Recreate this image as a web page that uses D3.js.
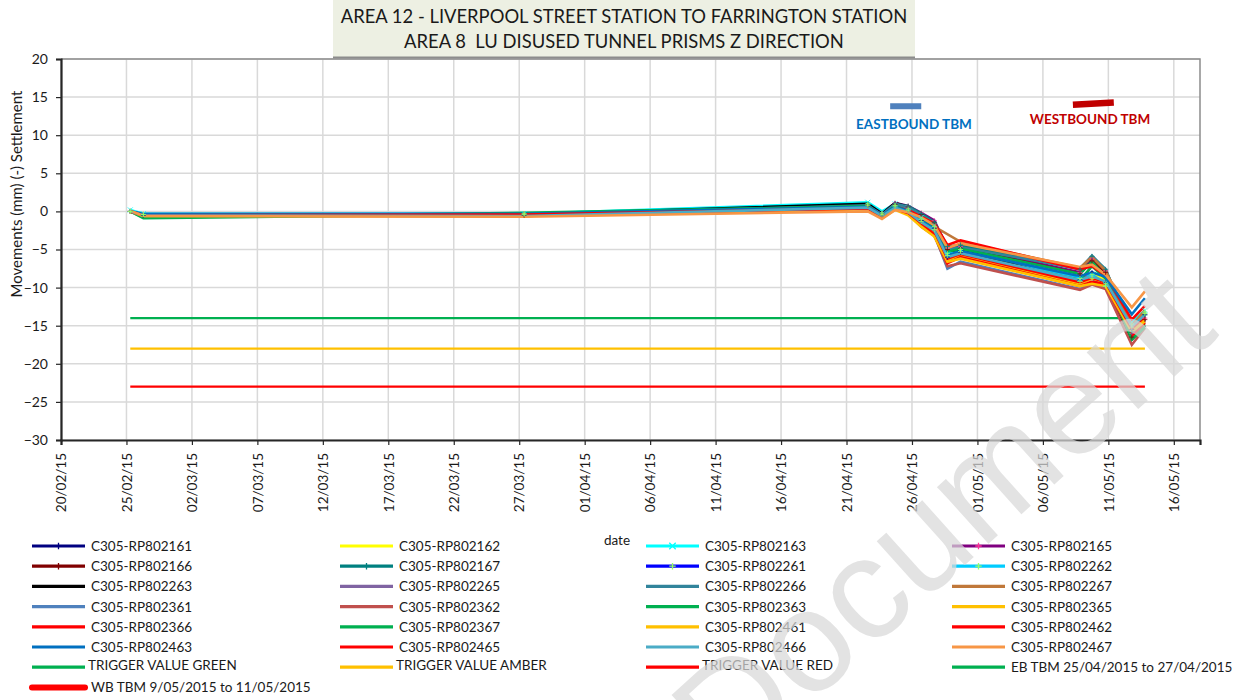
<!DOCTYPE html>
<html>
<head>
<meta charset="utf-8">
<script src="https://cdn.jsdelivr.net/npm/d3@7"></script>
<style>
  html, body { margin: 0; padding: 0; background: #ffffff; }
  svg { display: block; font-family: Lato, "Open Sans", sans-serif; }
</style>
</head>
<body>
<svg id="chart" width="1246" height="700"></svg>
<script>
// ---- data -------------------------------------------------------------
const readingDates = [
  "2015-02-25 07:00", "2015-02-26 07:00", "2015-03-27 09:00", "2015-04-22 15:00",
  "2015-04-23 17:00", "2015-04-24 17:00", "2015-04-25 17:00", "2015-04-26 17:00",
  "2015-04-27 17:00", "2015-04-28 17:00", "2015-04-29 17:00", "2015-05-08 20:00",
  "2015-05-09 18:00", "2015-05-10 19:00", "2015-05-12 19:00", "2015-05-13 19:00"
];

const seriesNames = [
  "C305-RP802161", "C305-RP802162", "C305-RP802163", "C305-RP802165",
  "C305-RP802166", "C305-RP802167", "C305-RP802261", "C305-RP802262",
  "C305-RP802263", "C305-RP802265", "C305-RP802266", "C305-RP802267",
  "C305-RP802361", "C305-RP802362", "C305-RP802363", "C305-RP802365",
  "C305-RP802366", "C305-RP802367", "C305-RP802461", "C305-RP802462",
  "C305-RP802463", "C305-RP802465", "C305-RP802466", "C305-RP802467"
];

const seriesColors = [
  "#000080", "#ffff00", "#00ffff", "#800080",
  "#800000", "#008080", "#0000ff", "#00ccff",
  "#000000", "#8064a2", "#31849b", "#c0783a",
  "#4f81bd", "#c0504d", "#00b050", "#ffc000",
  "#ff0000", "#00b050", "#ffc000", "#ff0000",
  "#0070c0", "#ff0000", "#4bacc6", "#f79646"
];

// marker per series: null = plain line
const seriesMarkers = [
  "plus", null, "cross", "plus",
  "plus", "plus", "plus", "plus",
  null, null, null, null,
  null, null, null, null,
  null, null, null, null,
  null, null, null, null
];
const markerColors = [
  "#000080", null, "#00ffff", "#ff3399",
  "#800000", "#008080", "#99ff66", "#99ff66",
  null, null, null, null, null, null, null, null,
  null, null, null, null, null, null, null, null
];

// settlement readings (mm), one row per prism, one value per reading date
const seriesValues = [
  [0.0, -0.4, -0.4, 0.9, -0.2, 0.8, 0.2, -1.2, -2.2, -6.0, -5.4, -9.0, -8.0, -9.4, -15.5, -13.5],
  [0.0, -0.5, -0.5, 0.7, -0.5, 0.4, -0.3, -1.6, -2.6, -6.2, -5.6, -8.6, -8.2, -9.0, -15.0, -13.8],
  [0.2, -0.3, -0.3, 1.2, 0.0, 1.0, 0.5, -0.8, -1.8, -5.6, -5.0, -8.9, -8.3, -9.6, -14.5, -13.0],
  [0.0, -0.4, -0.4, 0.9, -0.3, 1.1, 0.7, -0.2, -1.2, -4.8, -4.6, -8.0, -6.2, -7.8, -16.0, -14.0],
  [0.0, -0.5, -0.5, 0.8, -0.4, 0.9, 0.6, -0.4, -1.5, -5.0, -4.8, -8.2, -6.5, -8.0, -16.5, -14.2],
  [0.0, -0.5, -0.4, 0.9, -0.3, 1.0, 0.7, -0.3, -1.4, -4.6, -4.4, -7.6, -5.9, -7.6, -15.8, -13.6],
  [0.0, -0.4, -0.4, 0.8, -0.4, 0.7, 0.1, -1.3, -2.4, -5.8, -5.3, -9.2, -8.8, -9.8, -15.2, -13.4],
  [0.0, -0.4, -0.3, 1.0, -0.2, 0.8, 0.3, -1.0, -2.0, -5.5, -5.0, -8.8, -8.3, -9.5, -14.8, -13.2],
  [0.0, -0.5, -0.4, 1.0, -0.3, 1.1, 0.6, -0.6, -1.6, -5.2, -5.0, -9.4, -8.6, -9.6, -16.8, -15.0],
  [0.0, -0.5, -0.5, 0.7, -0.4, 0.9, 0.4, -0.8, -1.9, -6.4, -5.8, -9.6, -7.0, -8.5, -16.2, -14.4],
  [0.0, -0.6, -0.5, 0.8, -0.5, 1.0, 0.6, -0.5, -1.5, -5.0, -4.7, -7.5, -5.8, -7.7, -15.6, -14.2],
  [0.0, -0.6, -0.6, 0.4, -0.6, 0.5, 0.0, null, null, null, -4.0, -7.4, -6.0, -7.8, -15.0, -13.0],
  [0.0, -0.5, -0.5, 0.6, -0.6, 0.5, -0.2, -1.8, -3.0, -7.5, -6.6, -10.2, -9.4, -10.0, -16.2, -15.0],
  [0.0, -0.6, -0.6, 0.5, -0.7, 0.4, -0.3, -2.0, -3.2, -7.2, -6.8, -10.3, -9.6, -10.2, -17.5, -15.3],
  [0.0, -0.8, -0.2, 0.7, -0.6, 0.6, 0.0, -1.4, -2.6, -6.0, -5.6, -9.0, -7.2, -8.8, -16.6, -14.8],
  [0.0, -0.6, -0.5, 0.5, -0.8, 0.4, -0.2, -1.6, -2.8, -6.3, -5.8, -9.5, -8.8, -9.4, -15.6, -14.0],
  [0.0, -0.5, -0.4, 0.4, -0.6, 0.3, -0.3, -1.8, -3.0, -6.8, -6.0, -9.8, -9.2, -9.6, -16.4, -14.6],
  [0.0, -0.9, -0.3, 0.6, -0.7, 0.7, 0.1, -1.1, -2.2, -5.3, -4.9, -8.2, -6.6, -8.6, -16.8, -15.2],
  [0.0, -0.6, -0.6, 0.3, -0.9, 0.2, -0.5, -2.0, -3.3, -6.6, -6.2, -9.8, -9.5, -9.8, -15.8, -14.4],
  [0.0, -0.5, -0.5, 0.4, -0.6, 0.5, 0.2, -0.7, -1.6, -4.4, -3.8, -7.6, -7.2, -8.4, -14.2, -12.4],
  [0.0, -0.3, -0.3, 0.6, -0.5, 0.6, 0.1, -1.2, -2.3, -5.8, -5.2, -8.5, -8.0, -8.6, -13.5, -11.4],
  [0.0, -0.5, -0.4, 0.4, -0.7, 0.3, -0.2, -1.5, -2.6, -6.2, -5.6, -9.3, -8.7, -9.3, -15.4, -13.8],
  [0.0, -0.5, -0.6, 0.5, -0.6, 0.5, -0.1, -1.4, -2.5, -6.0, -5.5, -9.0, -8.5, -9.2, -15.1, -13.6],
  [0.1, -0.6, -0.7, 0.0, -1.0, 0.2, -0.1, -0.8, -1.8, -4.8, -4.2, -7.3, -7.0, -8.3, -12.6, -10.5]
];

// trigger levels (mm), drawn across the monitoring period
const triggerNames = ["TRIGGER VALUE GREEN", "TRIGGER VALUE AMBER", "TRIGGER VALUE RED"];
const triggerLevels = [-14, -18, -23];
const triggerColors = ["#00b050", "#ffc000", "#ff0000"];
const triggerDates = ["2015-02-25 07:00", "2015-05-13 19:00"];

// TBM passage bars
const ebTbmDates = ["2015-04-24 08:00", "2015-04-26 17:00"];
const ebTbmValues = [13.8, 13.8];
const wbTbmDates = ["2015-05-08 07:00", "2015-05-11 10:00"];
const wbTbmValues = [14.0, 14.3];

const xTickDates = [
  "2015-02-20", "2015-02-25", "2015-03-02", "2015-03-07", "2015-03-12", "2015-03-17",
  "2015-03-22", "2015-03-27", "2015-04-01", "2015-04-06", "2015-04-11", "2015-04-16",
  "2015-04-21", "2015-04-26", "2015-05-01", "2015-05-06", "2015-05-11", "2015-05-16"
];
const xDomain = ["2015-02-20", "2015-05-18"];
const yTicks = [20, 15, 10, 5, 0, -5, -10, -15, -20, -25, -30];

// ---- drawing ----------------------------------------------------------
const parseDT = d3.timeParse("%Y-%m-%d %H:%M");
const parseD = d3.timeParse("%Y-%m-%d");
const fmt = d3.timeFormat("%d/%m/%y");

const svg = d3.select("#chart");
const plot = { left: 61, right: 1200, top: 59, bottom: 440 };

const x = d3.scaleTime()
  .domain(xDomain.map(parseD))
  .range([plot.left, plot.right]);
const y = d3.scaleLinear()
  .domain([-30, 20])
  .range([plot.bottom, plot.top]);

// gridlines
svg.append("g").selectAll("line.h").data(yTicks).join("line")
  .attr("x1", plot.left).attr("x2", plot.right)
  .attr("y1", d => y(d)).attr("y2", d => y(d))
  .attr("stroke", "#d9d9d9").attr("stroke-width", 1.5);
svg.append("g").selectAll("line.v").data(xTickDates).join("line")
  .attr("x1", d => x(parseD(d))).attr("x2", d => x(parseD(d)))
  .attr("y1", plot.top).attr("y2", plot.bottom)
  .attr("stroke", "#d9d9d9").attr("stroke-width", 1.5);

// outer frame (top / right)
svg.append("path")
  .attr("d", `M${plot.left},${plot.top}H${plot.right}V${plot.bottom}`)
  .attr("fill", "none").attr("stroke", "#8c8c8c").attr("stroke-width", 1.5);

// axes
const yAxis = d3.axisLeft(y).tickValues(yTicks).tickSize(5).tickPadding(8);
const gy = svg.append("g").attr("transform", `translate(${plot.left},0)`).call(yAxis);
gy.select(".domain").attr("stroke", "#262626").attr("stroke-width", 2.2);
gy.selectAll(".tick line").attr("stroke", "#262626").attr("stroke-width", 1.2);
gy.selectAll(".tick text").attr("font-size", 14).attr("fill", "#1a1a1a")
  .attr("font-family", "Lato, sans-serif");

const xAxis = d3.axisBottom(x).tickValues(xTickDates.map(parseD)).tickFormat(fmt).tickSize(5);
const gx = svg.append("g").attr("transform", `translate(0,${plot.bottom})`).call(xAxis);
gx.select(".domain").attr("stroke", "#262626").attr("stroke-width", 2.2);
gx.selectAll(".tick line").attr("stroke", "#262626").attr("stroke-width", 1.2);
gx.selectAll(".tick text")
  .attr("font-size", 13.5).attr("fill", "#1a1a1a").attr("font-family", "Lato, sans-serif")
  .attr("transform", "rotate(-90)")
  .attr("text-anchor", "end")
  .attr("x", -13).attr("y", 0).attr("dy", "0.35em");

// axis titles
svg.append("text")
  .attr("transform", "translate(22,194) rotate(-90)")
  .attr("text-anchor", "middle")
  .attr("font-size", 15).attr("fill", "#1a1a1a")
  .text("Movements (mm) (-) Settlement");
svg.append("text")
  .attr("x", 617).attr("y", 545)
  .attr("text-anchor", "middle")
  .attr("font-size", 13.5).attr("fill", "#1a1a1a")
  .text("date");

// trigger lines
const line = d3.line()
  .defined(d => d.v !== null)
  .x(d => x(d.t)).y(d => y(d.v));

triggerLevels.forEach((lvl, i) => {
  const pts = triggerDates.map(d => ({ t: parseDT(d), v: lvl }));
  svg.append("path").attr("d", line(pts))
    .attr("fill", "none").attr("stroke", triggerColors[i]).attr("stroke-width", 2.2);
});

// prism series
const dates = readingDates.map(parseDT);
const seriesData = seriesValues.map((vals, i) => ({
  name: seriesNames[i],
  color: seriesColors[i],
  marker: seriesMarkers[i],
  mcolor: markerColors[i],
  pts: vals.map((v, j) => ({ t: dates[j], v: v })).filter(p => p.v !== null)
}));

const gSeries = svg.append("g");
gSeries.selectAll("path").data(seriesData).join("path")
  .attr("d", d => line(d.pts))
  .attr("fill", "none")
  .attr("stroke", d => d.color)
  .attr("stroke-width", 2.6)
  .attr("stroke-linejoin", "miter");

function markerPath(type, cx, cy, r) {
  if (type === "cross") {
    return `M${cx - r},${cy - r}L${cx + r},${cy + r}M${cx - r},${cy + r}L${cx + r},${cy - r}`;
  }
  return `M${cx - r},${cy}H${cx + r}M${cx},${cy - r}V${cy + r}`;
}

seriesData.filter(d => d.marker).forEach(s => {
  gSeries.append("g").selectAll("path").data(s.pts).join("path")
    .attr("d", p => markerPath(s.marker, x(p.t), y(p.v), 2.5))
    .attr("stroke", s.mcolor).attr("stroke-width", 1).attr("fill", "none")
    .attr("opacity", 0.8);
});

// TBM bars
const ebPts = ebTbmDates.map((d, i) => ({ t: parseDT(d), v: ebTbmValues[i] }));
svg.append("path").attr("d", line(ebPts))
  .attr("fill", "none").attr("stroke", "#4f81bd").attr("stroke-width", 6);
const wbPts = wbTbmDates.map((d, i) => ({ t: parseDT(d), v: wbTbmValues[i] }));
svg.append("path").attr("d", line(wbPts))
  .attr("fill", "none").attr("stroke", "#c00000").attr("stroke-width", 6.5);

svg.append("text")
  .attr("x", 914)
  .attr("y", 129).attr("text-anchor", "middle")
  .attr("font-size", 13.5).attr("font-weight", "bold").attr("fill", "#0070c0")
  .text("EASTBOUND TBM");
svg.append("text")
  .attr("x", 1090)
  .attr("y", 124).attr("text-anchor", "middle")
  .attr("font-size", 13.5).attr("font-weight", "bold").attr("fill", "#c00000")
  .text("WESTBOUND TBM");

// title box
const titleG = svg.append("g");
titleG.append("rect").attr("x", 333).attr("y", 0).attr("width", 582).attr("height", 57)
  .attr("fill", "#edf0e3");
titleG.append("line").attr("x1", 333).attr("x2", 915).attr("y1", 57.5).attr("y2", 57.5)
  .attr("stroke", "#8c8c8c").attr("stroke-width", 2);
titleG.append("text").attr("x", 624).attr("y", 23).attr("text-anchor", "middle")
  .attr("font-size", 18.4).attr("fill", "#1a1a1a")
  .text("AREA 12 - LIVERPOOL STREET STATION TO FARRINGTON STATION");
titleG.append("text").attr("x", 624).attr("y", 48).attr("text-anchor", "middle")
  .attr("font-size", 18.4).attr("fill", "#1a1a1a").attr("xml:space", "preserve")
  .text("AREA 8  LU DISUSED TUNNEL PRISMS Z DIRECTION");

// legend
const legendItems = seriesData.map(s => ({ name: s.name, color: s.color, marker: s.marker, mcolor: s.mcolor, w: 3.2 }))
  .concat(triggerNames.map((n, i) => ({ name: n, color: triggerColors[i], marker: null, w: 3.2, dy: -2 })))
  .concat([{ name: "EB TBM 25/04/2015 to 27/04/2015", color: "#00b050", marker: null, w: 3.2 },
           { name: "WB TBM 9/05/2015 to 11/05/2015", color: "#ff0000", marker: null, w: 6 }]);
const legCols = [32, 340, 646, 952];
const legY0 = 546, legDY = 20.2, legLine = 53;

const lg = svg.append("g");
legendItems.forEach((it, i) => {
  const cx = legCols[i % 4];
  const cy = legY0 + Math.floor(i / 4) * legDY;
  lg.append("line").attr("x1", cx).attr("x2", cx + legLine).attr("y1", cy).attr("y2", cy)
    .attr("stroke", it.color).attr("stroke-width", it.w).attr("stroke-linecap", it.w > 4 ? "round" : "butt");
  if (it.marker) {
    lg.append("path").attr("d", markerPath(it.marker, cx + legLine / 2, cy, 3.2))
      .attr("stroke", it.mcolor).attr("stroke-width", 1.3);
  }
  lg.append("text").attr("x", cx + legLine + (it.dy ? 3 : 6)).attr("y", cy + 5 + (it.dy || 0))
    .attr("font-size", 13.5).attr("fill", "#1a1a1a").text(it.name);
});

// watermark
svg.append("text")
  .attr("transform", "translate(975,556) rotate(-42)")
  .attr("text-anchor", "middle")
  .attr("font-family", "Liberation Sans, Arial, sans-serif")
  .attr("font-size", 145)
  .attr("fill", "#d9d9d9").attr("opacity", 0.72)
  .text("Document");
</script>
</body>
</html>
